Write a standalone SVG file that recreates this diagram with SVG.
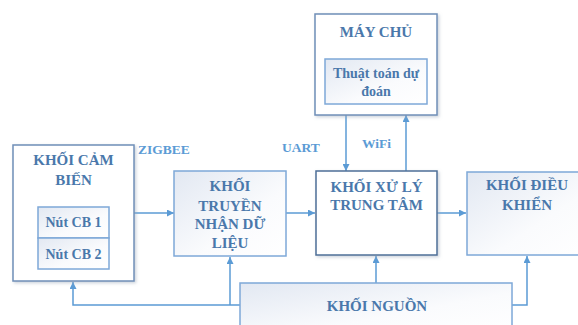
<svg xmlns="http://www.w3.org/2000/svg" width="578" height="325" viewBox="0 0 578 325">
<style>
.t{font-family:"Liberation Serif","Times New Roman",serif;font-weight:bold;fill:#4a78ab;text-anchor:middle}
.big{font-size:15px}
.sm{font-size:14px}
.lbl{font-family:"Liberation Serif","Times New Roman",serif;font-weight:bold;fill:#5b9bd5;font-size:13.5px}
.plain{fill:#ffffff;stroke:#6f8fb8;stroke-width:1.5}
.dark{fill:#ffffff;stroke:#4d6f98;stroke-width:1.5}
.grad{fill:url(#g);stroke:#7ea8d8;stroke-width:1.5}
.c{fill:none;stroke:#5b9bd5;stroke-width:1.5}
</style>
<defs>
<linearGradient id="g" x1="0" y1="0" x2="1" y2="1">
<stop offset="0" stop-color="#e2e8f2"/>
<stop offset="0.6" stop-color="#fafbfd"/>
<stop offset="1" stop-color="#ffffff"/>
</linearGradient>
<filter id="sh" x="-10%" y="-10%" width="125%" height="125%">
<feDropShadow dx="1.5" dy="1.5" stdDeviation="1.5" flood-color="#9aa8b8" flood-opacity="0.5"/>
</filter>
<marker id="a" viewBox="0 0 10 10" refX="10" refY="5" markerWidth="7" markerHeight="7" markerUnits="userSpaceOnUse" orient="auto">
<path d="M0,0 L10,5 L0,10 z" fill="#5b9bd5"/>
</marker>
</defs>

<g id="connectors">
<line class="c" x1="134" y1="213" x2="174" y2="213" marker-end="url(#a)"/>
<line class="c" x1="286" y1="213" x2="315" y2="213" marker-end="url(#a)"/>
<line class="c" x1="437" y1="213" x2="466" y2="213" marker-end="url(#a)"/>
<line class="c" x1="346" y1="115" x2="346" y2="171" marker-end="url(#a)"/>
<line class="c" x1="406" y1="171" x2="406" y2="115" marker-end="url(#a)"/>
<line class="c" x1="376" y1="283" x2="376" y2="256" marker-end="url(#a)"/>
<polyline class="c" points="240,305 73,305 73,282" marker-end="url(#a)"/>
<line class="c" x1="230" y1="305" x2="230" y2="257" marker-end="url(#a)"/>
<polyline class="c" points="512,305 527,305 527,256" marker-end="url(#a)"/>
</g>

<g id="labels">
<text class="lbl" x="138" y="154">ZIGBEE</text>
<text class="lbl" x="282" y="152">UART</text>
<text class="lbl" x="362" y="148">WiFi</text>
</g>

<g id="khoi-cam-bien">
<rect class="plain" x="13" y="145" width="121" height="136" filter="url(#sh)"/>
<text class="t big" x="73.5" y="165">KHỐI CẢM</text>
<text class="t big" x="73.5" y="185">BIẾN</text>
</g>
<g id="nut-cb-1">
<rect class="grad" x="38" y="207" width="71" height="31"/>
<text class="t sm" x="73.5" y="227">Nút CB 1</text>
</g>
<g id="nut-cb-2">
<rect class="grad" x="38" y="238" width="71" height="31"/>
<text class="t sm" x="73.5" y="259">Nút CB 2</text>
</g>

<g id="khoi-truyen-nhan">
<rect class="grad" x="174" y="171" width="112" height="85"/>
<text class="t big" x="230" y="191">KHỐI</text>
<text class="t big" x="230" y="211">TRUYỀN</text>
<text class="t big" x="230" y="229">NHẬN DỮ</text>
<text class="t big" x="230" y="248">LIỆU</text>
</g>

<g id="may-chu">
<rect class="plain" x="315" y="14" width="122" height="101" filter="url(#sh)"/>
<text class="t big" x="376" y="37">MÁY CHỦ</text>
</g>
<g id="thuat-toan">
<rect class="grad" x="325" y="59" width="102" height="45"/>
<text class="t sm" x="376" y="78">Thuật toán dự</text>
<text class="t sm" x="376" y="96">đoán</text>
</g>

<g id="khoi-xu-ly">
<rect class="dark" x="316" y="171" width="121" height="84" filter="url(#sh)"/>
<text class="t big" x="376.5" y="192">KHỐI XỬ LÝ</text>
<text class="t big" x="376.5" y="210">TRUNG TÂM</text>
</g>

<g id="khoi-dieu-khien">
<rect class="grad" x="467" y="172" width="125" height="83"/>
<text class="t big" x="527" y="190">KHỐI ĐIỀU</text>
<text class="t big" x="527" y="210">KHIỂN</text>
</g>

<g id="khoi-nguon">
<rect class="grad" x="240" y="283" width="272" height="50"/>
<text class="t big" x="377" y="311">KHỐI NGUỒN</text>
</g>
</svg>
